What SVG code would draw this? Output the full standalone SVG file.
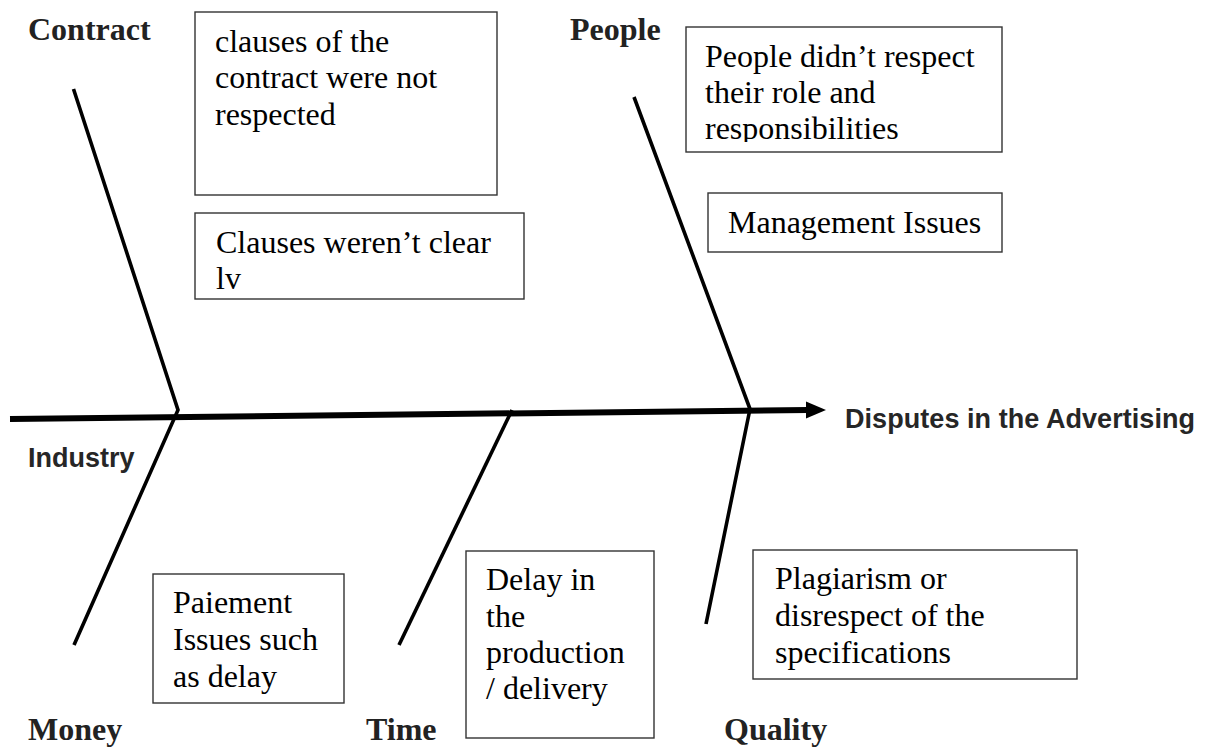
<svg xmlns="http://www.w3.org/2000/svg" width="1208" height="747" viewBox="0 0 1208 747">
<style>
.box{fill:#fff;stroke:#333;stroke-width:1.4}
.t{font-family:"Liberation Serif","Times New Roman",serif;font-size:32px;fill:#000}
.h{font-family:"Liberation Serif","Times New Roman",serif;font-size:32px;font-weight:bold;fill:#222}
.s{font-family:"Liberation Sans",Arial,sans-serif;font-size:27px;font-weight:bold;fill:#262626}
.bone{stroke:#000;stroke-width:3.6;fill:none;stroke-linecap:butt}
.spine{stroke:#000;stroke-width:6;fill:none}
</style>
<defs>
<clipPath id="clipC"><rect x="686" y="27" width="316" height="115"/></clipPath>
</defs>
<rect width="1208" height="747" fill="#fff"/>
<g id="connectors">
<line class="spine" x1="10" y1="419" x2="808" y2="410"/>
<polygon points="806,401.5 826,410 806,418.5" fill="#000"/>
<polyline class="bone" points="73.5,89 178,410 74,645"/>
<line class="bone" x1="512" y1="410" x2="399" y2="645"/>
<polyline class="bone" points="634,97 750,409 706,624"/>
</g>
<g id="label-contract"><text class="h" x="28" y="40">Contract</text></g>
<g id="label-people"><text class="h" x="570" y="40">People</text></g>
<g id="label-money"><text class="h" x="28" y="740">Money</text></g>
<g id="label-time"><text class="h" x="366" y="740">Time</text></g>
<g id="label-quality"><text class="h" x="724" y="740">Quality</text></g>
<g id="label-industry"><text class="s" x="28" y="467">Industry</text></g>
<g id="label-effect"><text class="s" x="845" y="428" textLength="350">Disputes in the Advertising</text></g>
<g id="box-clauses-not-respected">
<rect class="box" x="195" y="12" width="302" height="183"/>
<text class="t" x="215" y="52">clauses of the</text>
<text class="t" x="215" y="88">contract were not</text>
<text class="t" x="215" y="125">respected</text>
</g>
<g id="box-clauses-unclear">
<rect class="box" x="195" y="213" width="329" height="86"/>
<text class="t" x="216" y="253">Clauses weren’t clear</text>
<text class="t" x="216" y="289">lv</text>
</g>
<g id="box-people-roles">
<rect class="box" x="686" y="27" width="316" height="125"/>
<g clip-path="url(#clipC)">
<text class="t" x="705" y="67">People didn’t respect</text>
<text class="t" x="705" y="103">their role and</text>
<text class="t" x="705" y="139">responsibilities</text>
</g>
</g>
<g id="box-management">
<rect class="box" x="708" y="193" width="294" height="59"/>
<text class="t" x="728" y="233">Management Issues</text>
</g>
<g id="box-paiement">
<rect class="box" x="153" y="574" width="191" height="129"/>
<text class="t" x="173" y="613">Paiement</text>
<text class="t" x="173" y="650">Issues such</text>
<text class="t" x="173" y="687">as delay</text>
</g>
<g id="box-delay">
<rect class="box" x="466" y="551" width="188" height="187"/>
<text class="t" x="486" y="590">Delay in</text>
<text class="t" x="486" y="627">the</text>
<text class="t" x="486" y="663">production</text>
<text class="t" x="486" y="699">/ delivery</text>
</g>
<g id="box-plagiarism">
<rect class="box" x="753" y="550" width="324" height="129"/>
<text class="t" x="775" y="589">Plagiarism or</text>
<text class="t" x="775" y="626">disrespect of the</text>
<text class="t" x="775" y="663">specifications</text>
</g>
</svg>
